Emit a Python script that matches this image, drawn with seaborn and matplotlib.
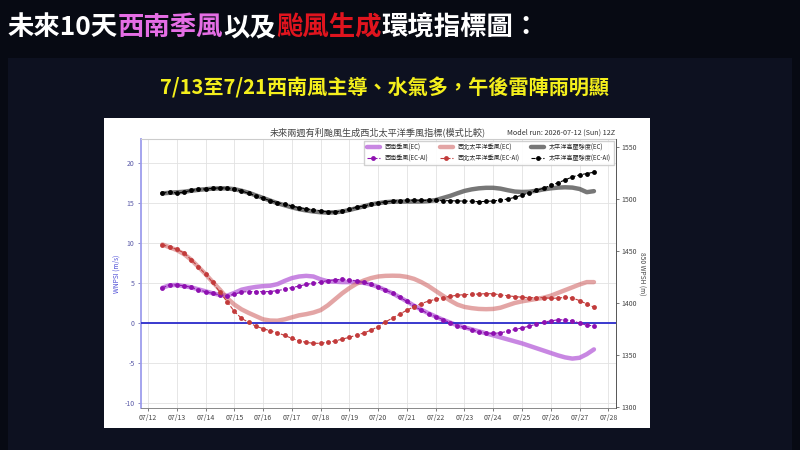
import numpy as np
import pandas as pd
import matplotlib
matplotlib.use('Agg')
import matplotlib.pyplot as plt
import matplotlib.dates as mdates
from matplotlib.patches import Rectangle
from matplotlib.ticker import MultipleLocator
import seaborn as sns

# 6-hourly, 2026-07-12 12Z -> 2026-07-27 12Z
times = pd.date_range('2026-07-12 12:00', periods=61, freq='6h')

# 西南季風 (m/s, left axis)
sw_ec = [4.4, 4.7, 4.75, 4.6, 4.45, 4.2, 3.95, 3.7, 3.5, 3.4,
         3.75, 4.15, 4.35, 4.5, 4.6, 4.65, 4.85, 5.25, 5.6, 5.8,
         5.88, 5.8, 5.45, 5.2, 5.15, 5.1, 5.1, 5.1, 5.0, 4.8,
         4.5, 4.1, 3.7, 3.2, 2.7, 2.15, 1.65, 1.2, 0.8, 0.4,
         0.05, -0.3, -0.55, -0.8, -1.05, -1.3, -1.55, -1.8, -2.05, -2.3,
         -2.55, -2.85, -3.15, -3.45, -3.75, -4.05, -4.3, -4.45, -4.35, -3.9,
         -3.3]
sw_ai = [4.38, 4.75, 4.75, 4.63, 4.46, 4.15, 3.9, 3.69, 3.5, 3.38,
         3.6, 3.85, 3.92, 3.92, 3.9, 3.92, 4.04, 4.21, 4.42, 4.6,
         4.82, 4.94, 5.1, 5.29, 5.38, 5.46, 5.42, 5.21, 5.06, 4.81,
         4.52, 4.12, 3.71, 3.21, 2.68, 2.08, 1.6, 1.16, 0.8, 0.42,
         0.02, -0.32, -0.56, -0.83, -1.1, -1.27, -1.31, -1.23, -1.04, -0.81,
         -0.62, -0.4, -0.14, 0.1, 0.25, 0.4, 0.38, 0.27, -0.02, -0.29,
         -0.35]

# 西北太平洋季風 (m/s, left axis)
nw_ec = [9.8, 9.45, 9.1, 8.6, 7.9, 7.0, 6.1, 5.1, 4.15, 3.1,
         2.3, 1.7, 1.25, 0.85, 0.45, 0.3, 0.28, 0.45, 0.7, 0.95,
         1.1, 1.3, 1.6, 2.2, 2.95, 3.7, 4.35, 4.9, 5.3, 5.6,
         5.8, 5.88, 5.9, 5.88, 5.75, 5.5, 5.1, 4.6, 4.0, 3.4,
         2.8, 2.3, 2.0, 1.85, 1.75, 1.72, 1.75, 1.9, 2.2, 2.5,
         2.7, 2.85, 3.0, 3.15, 3.4, 3.75, 4.1, 4.45, 4.8, 5.1,
         5.1]
nw_ai = [9.79, 9.46, 9.19, 8.75, 7.9, 7.0, 6.1, 5.06, 3.83, 2.65,
         1.44, 0.58, 0.06, -0.4, -0.71, -0.98, -1.23, -1.56, -1.92, -2.25,
         -2.42, -2.54, -2.54, -2.4, -2.25, -2.02, -1.79, -1.52, -1.25, -0.9,
         -0.46, 0.12, 0.62, 1.1, 1.6, 2.04, 2.42, 2.73, 2.96, 3.17,
         3.33, 3.46, 3.54, 3.56, 3.62, 3.65, 3.65, 3.5, 3.4, 3.29,
         3.21, 3.17, 3.17, 3.15, 3.08, 3.1, 3.2, 3.12, 2.79, 2.38,
         1.96]

# 太平洋高壓強度 (850 hPa height m, right axis)
hp_ec = [1505.5, 1506.0, 1506.5, 1507.0, 1508.0, 1508.8, 1509.5, 1510.0, 1510.3, 1510.2,
         1509.5, 1508.0, 1506.0, 1503.5, 1501.0, 1498.5, 1496.0, 1494.0, 1492.0, 1490.3,
         1489.0, 1488.0, 1487.3, 1487.0, 1487.2, 1488.0, 1489.5, 1491.2, 1493.0, 1494.8,
         1496.0, 1497.0, 1497.5, 1497.6, 1497.6, 1497.6, 1497.6, 1498.0, 1499.0, 1501.0,
         1503.0, 1505.5, 1507.8, 1509.3, 1510.3, 1510.8, 1510.8, 1510.0, 1508.5, 1507.2,
         1506.8, 1507.0, 1508.0, 1509.3, 1510.3, 1511.0, 1511.3, 1511.0, 1509.7, 1506.6,
         1507.6]
hp_ai = [1505.4, 1507.0, 1505.7, 1506.7, 1508.3, 1509.3, 1509.8, 1510.2, 1510.8, 1510.5,
         1509.3, 1507.9, 1505.4, 1503.2, 1500.7, 1498.4, 1496.5, 1494.9, 1493.3, 1491.7,
         1490.7, 1489.5, 1488.5, 1487.6, 1487.6, 1488.3, 1490.2, 1492.1, 1493.3, 1494.9,
         1496.5, 1497.2, 1498.1, 1498.4, 1498.7, 1499.0, 1498.7, 1498.7, 1498.7, 1498.4,
         1498.4, 1498.1, 1498.1, 1497.8, 1497.4, 1497.8, 1498.1, 1499.0, 1500.0, 1501.6,
         1503.8, 1506.0, 1508.3, 1510.5, 1513.1, 1515.6, 1518.4, 1521.3, 1523.2, 1524.5,
         1525.8]

sns.set_style('whitegrid')
plt.rcParams['font.family'] = ['Noto Sans CJK TC', 'DejaVu Sans']
plt.rcParams['axes.unicode_minus'] = False

fig = plt.figure(figsize=(8, 4.5), dpi=100, facecolor='#070a13')
# 深色版面 + 白色圖框
fig.add_artist(Rectangle((0.01, 0), 0.98, 0.872, transform=fig.transFigure,
                         facecolor='#0d1120', edgecolor='none', zorder=-2))
fig.add_artist(Rectangle((0.13, 0.049), 0.6825, 0.689, transform=fig.transFigure,
                         facecolor='white', edgecolor='none', zorder=-1))

ax = fig.add_axes([0.176, 0.0933, 0.5934, 0.5977])
ax2 = ax.twinx()

dot_kw = dict(linestyle='--', lw=0.8, marker='o', markersize=3.5,
              markeredgewidth=0, legend=False)

sns.lineplot(x=times, y=sw_ec, ax=ax, color='#b65fd9', alpha=0.75, lw=3.2,
             label='西南季風(EC)', legend=False, zorder=2)
sns.lineplot(x=times, y=sw_ai, ax=ax, color='#8e10b0', label='西南季風(EC-AI)',
             zorder=4, **dot_kw)
sns.lineplot(x=times, y=nw_ec, ax=ax, color='#cd5c5c', alpha=0.55, lw=3.2,
             label='西北太平洋季風(EC)', legend=False, zorder=2)
sns.lineplot(x=times, y=nw_ai, ax=ax, color='#c23b3b', label='西北太平洋季風(EC-AI)',
             zorder=4, **dot_kw)
ax.axhline(0, color='#2b2bcc', lw=1.3, zorder=3)

sns.lineplot(x=times, y=hp_ec, ax=ax2, color='#555555', alpha=0.8, lw=3.2,
             label='太平洋高壓強度(EC)', legend=False, zorder=2)
sns.lineplot(x=times, y=hp_ai, ax=ax2, color='black', label='太平洋高壓強度(EC-AI)',
             zorder=4, **dot_kw)

# 軸設定
ax.set_xlim(times[0] - pd.Timedelta('18h'), times[-1] + pd.Timedelta('18h'))
ax.set_ylim(-10.62, 22.96)
ax.yaxis.set_major_locator(MultipleLocator(5))
ax2.set_ylim(1299, 1557.7)
ax2.yaxis.set_major_locator(MultipleLocator(50))
ax.xaxis.set_major_locator(mdates.DayLocator())
ax.xaxis.set_major_formatter(mdates.DateFormatter('%m/%d'))

ax.grid(True, color='#e2e2e2', lw=0.6)
ax2.grid(False)
ax.tick_params(axis='x', bottom=True, length=2.5, width=0.5, labelsize=5,
               pad=2, colors='#444444')
ax.tick_params(axis='y', left=True, length=2.5, width=0.5, labelsize=5,
               pad=2, colors='#5a5aa8')
ax2.tick_params(axis='y', right=True, length=2.5, width=0.5, labelsize=5,
                pad=2, colors='#444444')

for s in ['left', 'top', 'bottom']:
    ax2.spines[s].set_visible(False)
ax.spines['right'].set_visible(False)
ax.spines['left'].set_color('#9d9ded')
ax.spines['left'].set_linewidth(1.3)
ax.spines['bottom'].set_color('#888888')
ax.spines['bottom'].set_linewidth(0.7)
ax.spines['top'].set_color('#cccccc')
ax2.spines['right'].set_color('#555555')
ax2.spines['right'].set_linewidth(0.7)

ax.set_xlabel('')
ax.set_ylabel('WNPSI (m/s)', color='#4a4ad6', fontsize=4.8, labelpad=3)
ax2.set_ylabel('850 WPSH (m)', color='#444444', fontsize=4.8, rotation=270,
               labelpad=6)

ax.set_title('未來兩週有利颱風生成西北太平洋季風指標(模式比較)', fontsize=6.6,
             color='#444444', pad=3)
ax.set_title('Model run: 2026-07-12 (Sun) 12Z', loc='right', fontsize=5.2,
             color='#333333', pad=3)

h1, l1 = ax.get_legend_handles_labels()
h2, l2 = ax2.get_legend_handles_labels()
ax2.legend(h1 + h2, l1 + l2, ncol=3, loc='upper right', fontsize=4.4,
           frameon=True, borderaxespad=0.3, handlelength=2.2, columnspacing=1.8,
           framealpha=0.9, edgecolor='#cccccc', fancybox=False)

# 上方標題 (多色)
renderer = fig.canvas.get_renderer()
pieces = [('未來10天', 'white'), ('西南季風', '#e56ee5'), ('以及', 'white'),
          ('颱風生成', '#e0141e'), ('環境指標圖：', 'white')]
x = 0.01
for txt, col in pieces:
    t = fig.text(x, 0.938, txt, color=col, fontsize=19, fontweight='bold',
                 va='center', ha='left')
    bb = t.get_window_extent(renderer)
    x = fig.transFigure.inverted().transform((bb.x1, 0))[0]

fig.text(0.481, 0.804, '7/13至7/21西南風主導、水氣多，午後雷陣雨明顯',
         color='#f4ef1c', fontsize=14.5, fontweight='bold', ha='center', va='center')

fig.savefig('out.png', dpi=100, facecolor=fig.get_facecolor())
